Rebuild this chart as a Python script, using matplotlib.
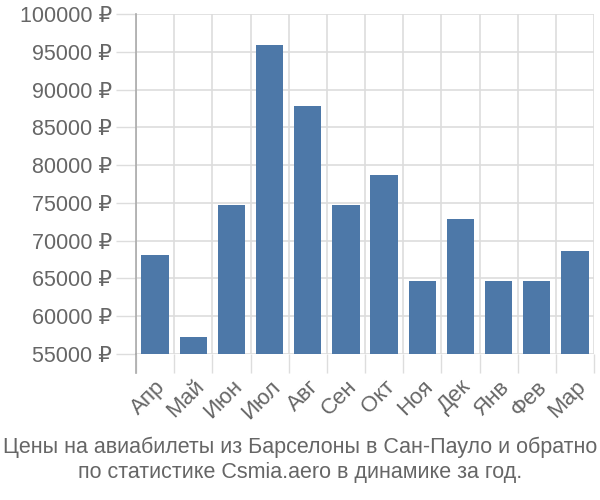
import matplotlib.pyplot as plt
import numpy as np

plt.rcParams['font.family'] = ['Liberation Sans', 'DejaVu Sans']

months = ['Апр', 'Май', 'Июн', 'Июл', 'Авг', 'Сен', 'Окт', 'Ноя', 'Дек', 'Янв', 'Фев', 'Мар']
prices = [68100, 57300, 74700, 95900, 87800, 74700, 78700, 64700, 72900, 64700, 64600, 68600]
yticks = list(range(55000, 100001, 5000))
title = 'Цены на авиабилеты из Барселоны в Сан-Пауло и обратно\nпо статистике Csmia.aero в динамике за год.'

grid_c = '#dddddd'
text_c = '#666666'

fig = plt.figure(figsize=(6, 5), dpi=100)
ax = fig.add_axes([136 / 600, 1 - 354 / 500, (594 - 136) / 600, (354 - 14) / 500])

x = np.arange(len(months))
base = yticks[0]
ax.bar(x, [p - base for p in prices], bottom=base, width=0.72, color='#4d78a8', zorder=3)

ax.set_xlim(-0.5, len(months) - 0.5)
ax.set_ylim(yticks[0], yticks[-1])

ax.set_yticks(yticks)
ax.set_yticklabels([f'{v} ₽' for v in yticks])
ax.tick_params(axis='y', length=14.4, width=1, color=grid_c, labelsize=15.5, labelcolor=text_c, pad=3)

# boundaries for vertical grid / ticks
ax.set_xticks(np.arange(len(months) + 1) - 0.5)
ax.set_xticklabels([])
ax.tick_params(axis='x', which='major', length=14, width=1, color=grid_c)
ax.set_xticks(x, minor=True)
ax.set_xticklabels(months, minor=True, rotation=45, ha='right', rotation_mode='anchor')
ax.tick_params(axis='x', which='minor', length=0, labelsize=16, labelcolor=text_c, pad=16)

ax.grid(True, which='major', color=grid_c, linewidth=1.2, zorder=0)

for s in ['top', 'right', 'bottom']:
    ax.spines[s].set_visible(False)
ax.spines['left'].set_color('#aaaaaa')
ax.spines['left'].set_linewidth(1.2)
ax.plot([-0.5, -0.5], [yticks[0], yticks[0] - 2500], color='#aaaaaa', lw=1.2, clip_on=False, zorder=4)

fig.text(0.5, 1 - 460 / 500, title, ha='center', va='center', fontsize=15.5, color=text_c, linespacing=1.25)

fig.savefig('out.png', dpi=100)
